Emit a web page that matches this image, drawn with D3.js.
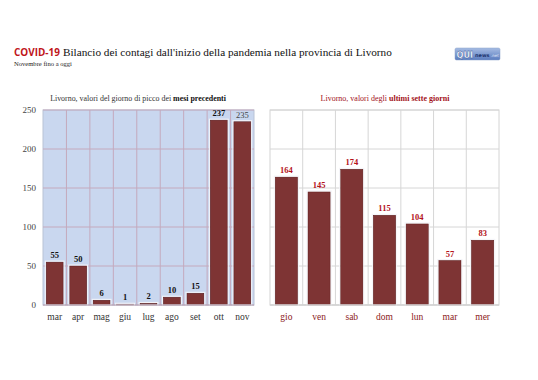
<!DOCTYPE html>
<html><head><meta charset="utf-8">
<script src="https://cdn.jsdelivr.net/npm/d3@7"></script>
<style>html,body{margin:0;padding:0;background:#fff;}svg{display:block;}</style>
</head><body>
<svg id="c" width="538" height="380"></svg>
<script>
const monthCats = ["mar","apr","mag","giu","lug","ago","set","ott","nov"];
const monthVals = [55,50,6,1,2,10,15,237,235];
const dayCats = ["gio","ven","sab","dom","lun","mar","mer"];
const dayVals = [164,145,174,115,104,57,83];
const yTicks = [0,50,100,150,200,250];

const serif = "'Liberation Serif','DejaVu Serif',serif";
const svg = d3.select("#c");
const barFill = "#7e3434";

// shrink font size until the natural width fits
function fit(sel, w){
  const n = sel.node();
  let fs = parseFloat(sel.attr("font-size"));
  let len = n.getComputedTextLength();
  if (len > w) { fs = fs * w / len; sel.attr("font-size", fs); sel.selectAll("tspan").attr("font-size", null); }
  return sel;
}

// Title
fit(svg.append("text").attr("x",14).attr("y",56).attr("font-family","'Open Sans',sans-serif").attr("font-weight","bold").attr("font-size",13).attr("fill","#c0151b").text("COVID-19"),46);
fit(svg.append("text").attr("x",63).attr("y",56).attr("font-family",serif).attr("font-size",14.5).attr("fill","#111").text("Bilancio dei contagi dall'inizio della pandemia nella provincia di Livorno"),329);
fit(svg.append("text").attr("x",14).attr("y",66).attr("font-family",serif).attr("font-size",7).attr("fill","#222").text("Novembre fino a oggi"),58);

// Logo
const defs = svg.append("defs");
const g = defs.append("linearGradient").attr("id","lg").attr("x1",0).attr("y1",0).attr("x2",0).attr("y2",1);
g.append("stop").attr("offset","0").attr("stop-color","#a6bce3");
g.append("stop").attr("offset","1").attr("stop-color","#5a7cbf");
svg.append("rect").attr("x",455).attr("y",48).attr("width",45).attr("height",12).attr("rx",1.5).attr("fill","url(#lg)").attr("stroke","#8aa0c8").attr("stroke-width",0.5);
fit(svg.append("text").attr("x",456.5).attr("y",57.5).attr("font-family","'DejaVu Sans',sans-serif").attr("font-weight","bold").attr("font-size",8.5).attr("fill","#fff").attr("stroke","#2b4c8f").attr("stroke-width",0.3).text("QUI"),16.5);
fit(svg.append("text").attr("x",475).attr("y",57).attr("font-family","'DejaVu Sans',sans-serif").attr("font-weight","bold").attr("font-size",5.5).attr("fill","#1d3570").text("news"),14.5);
fit(svg.append("text").attr("x",491).attr("y",57).attr("font-family","'DejaVu Sans',sans-serif").attr("font-size",4).attr("fill","#e4ecfa").text(".net"),8);

const y = d3.scaleLinear().domain([0,250]).range([305,110]);

function panel(cats, vals, x0, x1, opts){
  const x = d3.scaleBand().domain(cats).range([x0,x1]).paddingInner(opts.pad).paddingOuter(opts.pad/2);
  const step = x.step();
  const gp = svg.append("g");
  gp.append("rect").attr("x",x0).attr("y",y(250)).attr("width",x1-x0).attr("height",y(0)-y(250)).attr("fill",opts.bg).attr("stroke",opts.border).attr("stroke-width",1);
  gp.selectAll("line.h").data(yTicks).join("line").attr("x1",x0).attr("x2",x1).attr("y1",d=>y(d)).attr("y2",d=>y(d)).attr("stroke",opts.grid).attr("stroke-width",1);
  const bounds = cats.slice(1).map((c,i)=>x0+step*(i+1));
  gp.selectAll("line.v").data(bounds).join("line").attr("x1",d=>d).attr("x2",d=>d).attr("y1",y(250)).attr("y2",y(0)).attr("stroke",opts.grid).attr("stroke-width",1);
  gp.selectAll("rect.bar").data(vals).join("rect").attr("class","bar")
    .attr("x",(d,i)=>x(cats[i])).attr("width",x.bandwidth())
    .attr("y",d=>y(d)).attr("height",d=>y(0)-y(d))
    .attr("fill",barFill).attr("stroke","#5e1f1f").attr("stroke-width",0.6);
  gp.selectAll("rect.out").data(vals).join("rect")
    .attr("x",(d,i)=>x(cats[i])-1).attr("width",x.bandwidth()+2)
    .attr("y",d=>y(d)-1).attr("height",d=>y(0)-y(d)+1)
    .attr("fill","none").attr("stroke","#f4f4f8").attr("stroke-width",1);
  gp.selectAll("text.val").data(vals).join("text")
    .attr("x",(d,i)=>x(cats[i])+x.bandwidth()/2).attr("y",d=>y(d)-4)
    .attr("text-anchor","middle").attr("font-family",serif).attr("font-weight",(d,i)=>opts.valWeight(i)).attr("font-size",8.5)
    .attr("fill",(d,i)=>opts.valColor(i)).text(d=>d);
  gp.selectAll("text.cat").data(cats).join("text")
    .attr("x",d=>x(d)+x.bandwidth()/2).attr("y",320)
    .attr("text-anchor","middle").attr("font-family",serif).attr("font-size",9.5)
    .attr("fill",opts.catColor).text(d=>d);
  gp.append("line").attr("x1",x0).attr("x2",x1).attr("y1",y(0)).attr("y2",y(0)).attr("stroke",opts.base).attr("stroke-width",1);
  return gp;
}

panel(monthCats, monthVals, 43, 254, {pad:0.28, bg:"#c9d7ef", border:"#b9c3d6", grid:"#c4a9bd", base:"#b7a9b9",
  valColor:i=> i===monthCats.length-1 ? "#444" : "#111", valWeight:i=> i===monthCats.length-1 ? "normal" : "bold", catColor:"#333"});
panel(dayCats, dayVals, 270, 499, {pad:0.32, bg:"#fff", border:"#d4d4d4", grid:"#d6d6d6", base:"#cfcfcf",
  valColor:()=>"#b3121a", valWeight:()=>"bold", catColor:"#8c1a1a"});

const ax = svg.append("g").attr("transform","translate(38,0)")
  .call(d3.axisLeft(y).tickValues(yTicks).tickSize(0).tickPadding(2));
ax.select(".domain").remove();
ax.selectAll("text").attr("font-family",serif).attr("font-size",9).attr("fill","#444");

const s1 = svg.append("text").attr("x",138).attr("y",101).attr("text-anchor","middle").attr("font-family",serif).attr("font-size",8).attr("fill","#333");
s1.append("tspan").text("Livorno, valori del giorno di picco dei ");
s1.append("tspan").attr("font-weight","bold").attr("fill","#111").text("mesi precedenti");
fit(s1,176);
const s2 = svg.append("text").attr("x",385).attr("y",101).attr("text-anchor","middle").attr("font-family",serif).attr("font-size",8).attr("fill","#a3121a");
s2.append("tspan").text("Livorno, valori degli ");
s2.append("tspan").attr("font-weight","bold").text("ultimi sette giorni");
fit(s2,130);
</script>
</body></html>
